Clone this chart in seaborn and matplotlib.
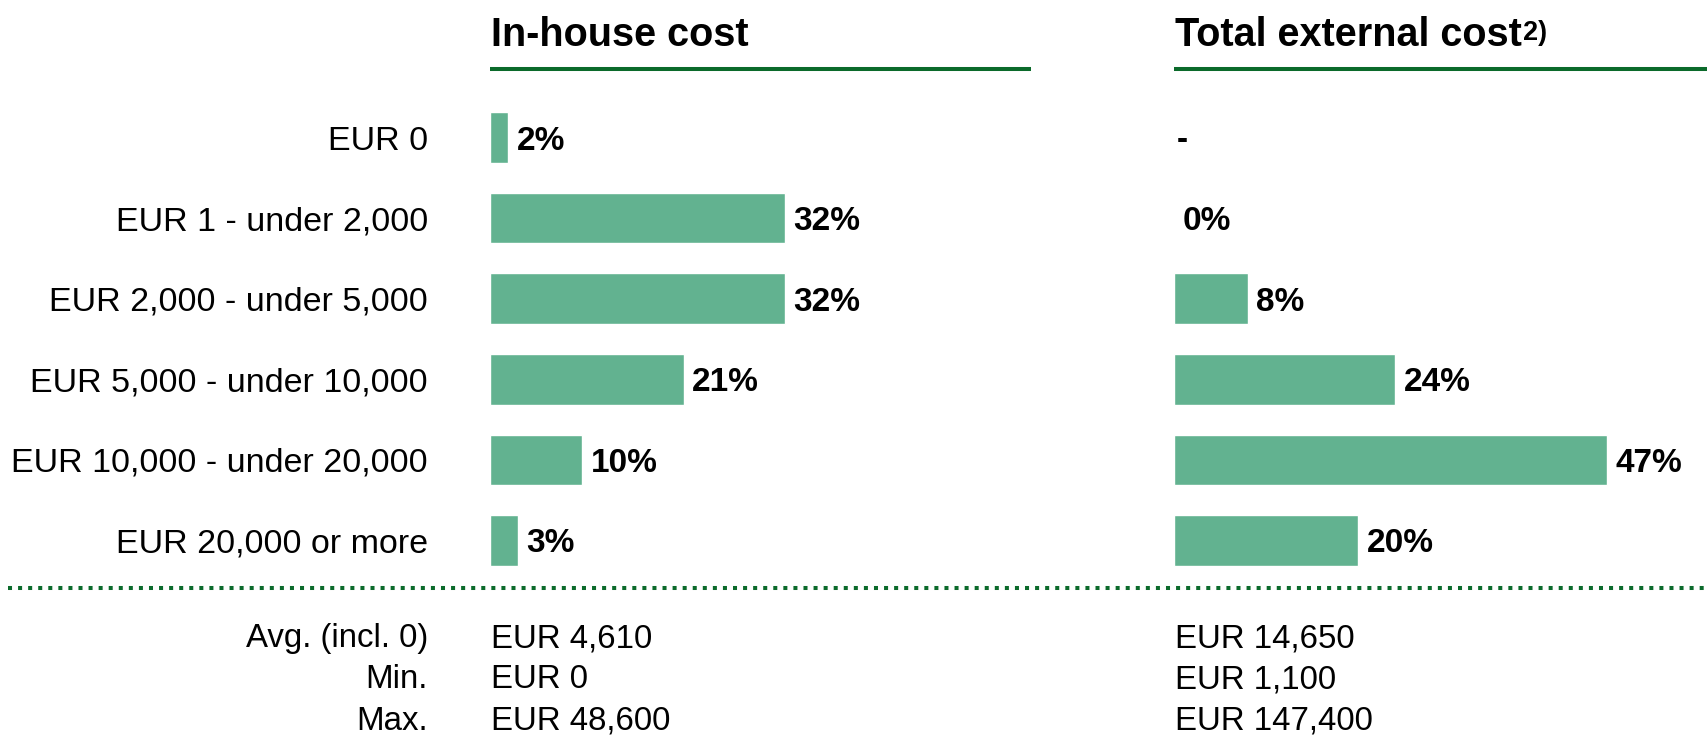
import numpy as np
import pandas as pd
import matplotlib
matplotlib.use("Agg")
import matplotlib.pyplot as plt
from matplotlib.lines import Line2D
import seaborn as sns

# Share of respondents per cost band (percent)
categories = [
    "EUR 0",
    "EUR 1 - under 2,000",
    "EUR 2,000 - under 5,000",
    "EUR 5,000 - under 10,000",
    "EUR 10,000 - under 20,000",
    "EUR 20,000 or more",
]
inhouse_pct = [2, 32, 32, 21, 10, 3]
external_pct = [np.nan, 0, 8, 24, 47, 20]

panel_titles = ["In-house cost", "Total external cost"]
title_footnote = "2)"

stat_labels = ["Avg. (incl. 0)", "Min.", "Max."]
inhouse_stats = ["EUR 4,610", "EUR 0", "EUR 48,600"]
external_stats = ["EUR 14,650", "EUR 1,100", "EUR 147,400"]

sns.set_style("white")
plt.rcParams["font.family"] = ["Liberation Sans", "DejaVu Sans"]
plt.rcParams["text.color"] = "black"
plt.rcParams["ytick.color"] = "black"
plt.rcParams["ytick.labelcolor"] = "black"

BAR = "#62b290"
DARK = "#0b6a2b"
W, H = 1707, 737

fig = plt.figure(figsize=(W / 100, H / 100), dpi=100)
fig.patch.set_facecolor("white")


def px_rect(x0, x1, top, bottom):
    return [x0 / W, 1 - bottom / H, (x1 - x0) / W, (bottom - top) / H]


def fy(y):
    return 1 - y / H


row_top, row_pitch = 97.2, 80.6
ax_top, ax_bot = row_top, row_top + 6 * row_pitch
px_per_pct = 9.22

panels = [
    (490, 1031, inhouse_pct, panel_titles[0], inhouse_stats),
    (1174, 1707, external_pct, panel_titles[1], external_stats),
]

for k, (x0, x1, values, title, stats) in enumerate(panels):
    ax = fig.add_axes(px_rect(x0, x1, ax_top, ax_bot))
    df = pd.DataFrame({"category": categories, "share": values})
    sns.barplot(data=df.dropna(), x="share", y="category", order=categories,
                color=BAR, saturation=1, width=0.63, ax=ax)
    ax.set_xlim(0, (x1 - x0) / px_per_pct)
    ax.set_ylim(len(categories) - 0.5, -0.5)
    ax.set_xlabel("")
    ax.set_ylabel("")
    ax.set_xticks([])
    for s in ax.spines.values():
        s.set_visible(False)
    if k == 0:
        ax.tick_params(axis="y", length=0, pad=44.6, labelsize=24.5,
                       labelcolor="black")
    else:
        ax.set_yticks([])
    ax.patch.set_alpha(0)

    for i, v in enumerate(values):
        if np.isnan(v):
            ax.annotate("-", (0, i), xytext=(2, 0), textcoords="offset points",
                        ha="left", va="center_baseline", fontsize=24,
                        fontweight="bold", color="black")
        else:
            ax.annotate(f"{v:g}%", (v, i), xytext=(6.0, 0), textcoords="offset points",
                        ha="left", va="center_baseline", fontsize=24,
                        fontweight="bold", color="black")

    # panel heading and green rule underneath
    fig.text((x0 + 1) / W, fy(46), title, ha="left", va="baseline",
             fontsize=28.5, fontweight="bold", color="black")
    fig.add_artist(Line2D([x0 / W, x1 / W], [fy(69), fy(69)], color=DARK,
                          lw=2.9, solid_capstyle="butt"))

    # summary statistics
    for j, s in enumerate(stats):
        fig.text((x0 + 1) / W, fy(647 + 41.5 * j), s, ha="left", va="baseline",
                 fontsize=23.8, color="black")

for j, s in enumerate(stat_labels):
    fig.text(428 / W, fy(647 + 41.5 * j), s, ha="right", va="baseline",
             fontsize=23.8, color="black")

# footnote marker on the second heading
fig.canvas.draw()
renderer = fig.canvas.get_renderer()
head = [t for t in fig.texts if t.get_text() == panel_titles[1]][0]
bb = head.get_window_extent(renderer)
fig.text((bb.x1 + 1) / W, fy(40), title_footnote, ha="left", va="baseline",
         fontsize=19.5, fontweight="bold", color="black")

# dotted separator between distribution and statistics
fig.add_artist(Line2D([8 / W, 1], [fy(588), fy(588)], color=DARK, lw=2.9,
                      linestyle=(0, (1, 1.5)), dash_capstyle="butt"))

fig.savefig("out.png", dpi=100, facecolor="white")
